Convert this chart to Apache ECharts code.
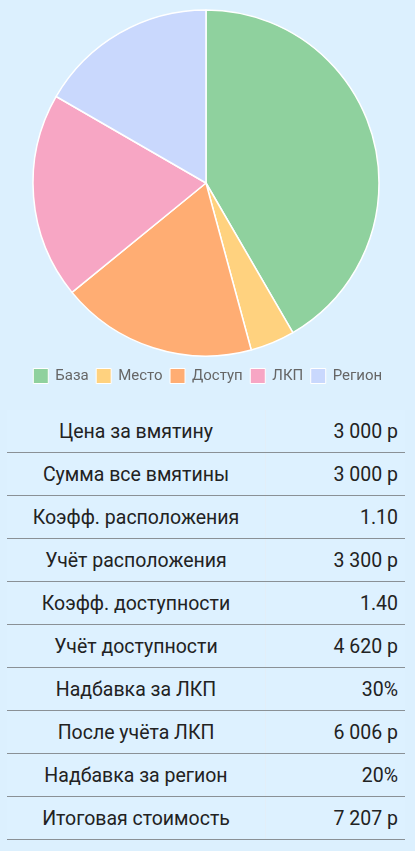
<!DOCTYPE html>
<html><head><meta charset="utf-8">
<script src="https://cdn.jsdelivr.net/npm/echarts@6/dist/echarts.min.js"></script>
<style>
html,body{margin:0;padding:0;background:#dcf0fe;width:415px;height:851px;overflow:hidden;font-family:Roboto,"Noto Sans",sans-serif;}
#chart{position:absolute;left:0;top:0;width:415px;height:400px;}
#tbl{position:absolute;left:7px;top:410px;width:398px;border-collapse:collapse;}
#tbl td{height:42px;padding:0;font-size:19.5px;color:#222;border-bottom:1px solid #8a9196;background:#ddf1ff;}
#tbl td.l{text-align:center;width:258px;border-right:1px solid #e2eef8;}
#tbl td.r{text-align:right;padding-right:7px;}
</style></head><body>
<div id="chart"></div>
<table id="tbl"></table>
<script>
const categories = ['База','Место','Доступ','ЛКП','Регион'];
const values = [3000, 300, 1320, 1386, 1201];
const colors = ['#8fd19e','#ffd27f','#ffad73','#f7a6c4','#c9d8fd'];
const rowLabels = ['Цена за вмятину','Сумма все вмятины','Коэфф. расположения','Учёт расположения','Коэфф. доступности','Учёт доступности','Надбавка за ЛКП','После учёта ЛКП','Надбавка за регион','Итоговая стоимость'];
const rowValues = ['3 000 р','3 000 р','1.10','3 300 р','1.40','4 620 р','30%','6 006 р','20%','7 207 р'];

const tbl = document.getElementById('tbl');
rowLabels.forEach((l,i)=>{
  const tr=document.createElement('tr');
  const a=document.createElement('td');a.className='l';a.textContent=l;
  const b=document.createElement('td');b.className='r';b.textContent=rowValues[i];
  tr.appendChild(a);tr.appendChild(b);tbl.appendChild(tr);
});

const chart = echarts.init(document.getElementById('chart'));
chart.setOption({
  animation:false,
  color: colors,
  legend:{
    data: categories, top: 363, left:'center',
    itemWidth:15, itemHeight:15, itemGap:7,
    icon:'rect',
    itemStyle:{borderColor:'#fff', borderWidth:1},
    textStyle:{color:'#666', fontSize:15, fontFamily:'Roboto', padding:[0,0,0,2]}
  },
  series:[{
    type:'pie', center:[206,183], radius:173, startAngle:90, clockwise:true,
    label:{show:false}, labelLine:{show:false},
    itemStyle:{borderColor:'#fff', borderWidth:1.5},
    data: categories.map((c,i)=>({name:c, value:values[i]}))
  }]
});
</script>
</body></html>
